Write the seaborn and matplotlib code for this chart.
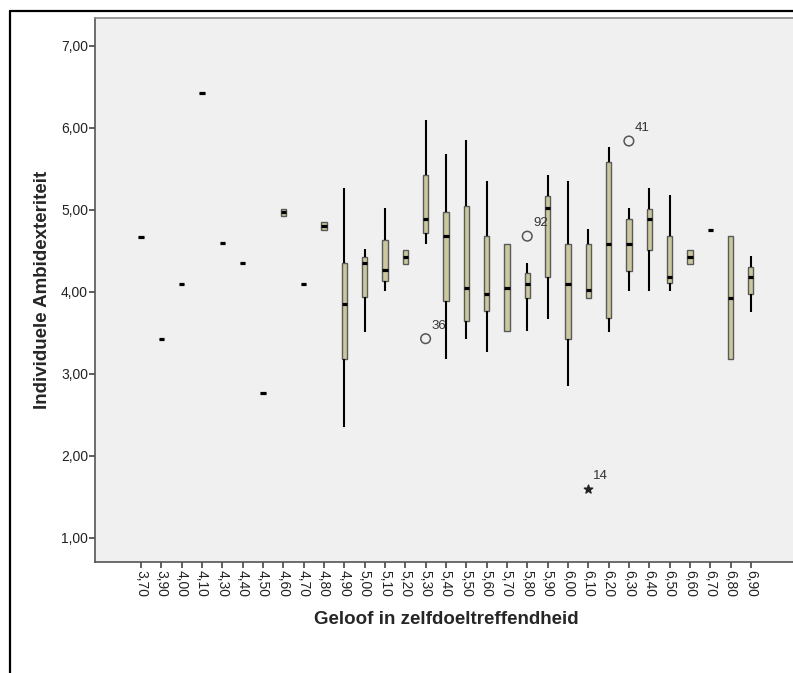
import numpy as np
import pandas as pd
import matplotlib
matplotlib.use("Agg")
import matplotlib.pyplot as plt
from matplotlib.lines import Line2D
import seaborn as sns

# Categories of "Geloof in zelfdoeltreffendheid"
categories = ["3,70", "3,90", "4,00", "4,10", "4,30", "4,40", "4,50", "4,60",
              "4,70", "4,80", "4,90", "5,00", "5,10", "5,20", "5,30", "5,40",
              "5,50", "5,60", "5,70", "5,80", "5,90", "6,00", "6,10", "6,20",
              "6,30", "6,40", "6,50", "6,60", "6,70", "6,80", "6,90"]

# Five-number summaries per category (whisker ends, quartiles, median)
whisker_low = [4.67, 3.43, 4.10, 6.42, 4.60, 4.35, 2.77, 4.92, 4.10, 4.76, 2.35,
               3.51, 4.01, 4.34, 4.59, 3.18, 3.42, 3.27, 3.52, 3.52, 3.67, 2.85,
               3.93, 3.51, 4.01, 4.01, 4.01, 4.34, 4.76, 3.18, 3.76]
quartile1 = [4.67, 3.43, 4.10, 6.42, 4.60, 4.35, 2.77, 4.92, 4.10, 4.76, 3.18,
             3.94, 4.13, 4.34, 4.72, 3.89, 3.65, 3.77, 3.52, 3.93, 4.18, 3.43,
             3.93, 3.68, 4.26, 4.51, 4.11, 4.34, 4.76, 3.18, 3.98]
median = [4.67, 3.43, 4.10, 6.42, 4.60, 4.35, 2.77, 4.97, 4.10, 4.80, 3.85,
          4.35, 4.27, 4.43, 4.89, 4.68, 4.05, 3.98, 4.05, 4.10, 5.02, 4.10,
          4.02, 4.59, 4.59, 4.89, 4.18, 4.43, 4.76, 3.93, 4.18]
quartile3 = [4.67, 3.43, 4.10, 6.42, 4.60, 4.35, 2.77, 5.01, 4.10, 4.85, 4.35,
             4.43, 4.63, 4.51, 5.43, 4.97, 5.05, 4.68, 4.59, 4.23, 5.17, 4.59,
             4.59, 5.59, 4.89, 5.01, 4.68, 4.51, 4.76, 4.68, 4.30]
whisker_high = [4.67, 3.43, 4.10, 6.42, 4.60, 4.35, 2.77, 5.01, 4.10, 4.85, 5.27,
                4.52, 5.02, 4.51, 6.10, 5.68, 5.85, 5.35, 4.59, 4.35, 5.43, 5.35,
                4.77, 5.77, 5.02, 5.27, 5.18, 4.51, 4.76, 4.68, 4.44]

# Outliers (circles) and extreme values (stars) with case numbers
outlier_cats = ["5,30", "5,80", "6,30"]
outlier_vals = [3.43, 4.68, 5.84]
outlier_ids = ["36", "92", "41"]
extreme_cats = ["6,10"]
extreme_vals = [1.60]
extreme_ids = ["14"]

sns.set_style("white", {"axes.facecolor": "#F0F0F0"})
plt.rcParams["font.family"] = ["Liberation Sans", "DejaVu Sans"]

rows = []
for i, c in enumerate(categories):
    for v in (whisker_low[i], quartile1[i], median[i], quartile3[i], whisker_high[i]):
        rows.append({"geloof": c, "ambi": v})
df = pd.DataFrame(rows)

fig = plt.figure(figsize=(7.93, 6.73), dpi=100)
ax = fig.add_axes([95 / 793, 1 - 562 / 673, 702 / 793, 544 / 673])

sns.boxplot(data=df, x="geloof", y="ambi", order=categories, ax=ax,
            whis=(0, 100), width=0.26, color="#D3CE97", linecolor="#5A5A5A",
            linewidth=1.0, showcaps=False, showfliers=False,
            medianprops={"color": "black", "linewidth": 2.3},
            whiskerprops={"color": "black", "linewidth": 1.5},
            boxprops={"edgecolor": "#5A5A5A", "linewidth": 1.0})

pos = {c: i for i, c in enumerate(categories)}
ox = [pos[c] for c in outlier_cats]
ax.scatter(ox, outlier_vals, s=48, facecolors="none", edgecolors="#555555",
           linewidths=1.1, zorder=5)
for x, y, t in zip(ox, outlier_vals, outlier_ids):
    ax.annotate(t, (x, y), xytext=(4.5, 5), textcoords="offset points",
                ha="left", va="bottom", fontsize=9.5, color="#333333")
ex = [pos[c] for c in extreme_cats]
ax.scatter(ex, extreme_vals, s=40, marker="*", color="#222222", zorder=5)
for x, y, t in zip(ex, extreme_vals, extreme_ids):
    ax.annotate(t, (x, y), xytext=(3.5, 5), textcoords="offset points",
                ha="left", va="bottom", fontsize=9.5, color="#333333")

ax.set_xlim(-2.263, 32.27)
ax.set_ylim(0.707, 7.34)
ax.set_yticks([1, 2, 3, 4, 5, 6, 7])
ax.set_yticklabels(["1,00", "2,00", "3,00", "4,00", "5,00", "6,00", "7,00"])
ax.set_xticks(range(len(categories)))
ax.set_xticklabels(categories, rotation=-90)
ax.tick_params(axis="y", length=4, width=1.2, color="#444444", labelsize=10,
               labelcolor="#222222", pad=1, left=True)
ax.tick_params(axis="x", length=4.5, width=1.2, color="#444444", labelsize=10,
               labelcolor="#222222", pad=1.5, bottom=True)

for side in ("left", "bottom"):
    ax.spines[side].set_color("#555555")
    ax.spines[side].set_linewidth(1.2)
ax.spines["top"].set_color("#888888")
ax.spines["top"].set_linewidth(1.2)
ax.spines["right"].set_visible(False)

ax.set_xlabel("Geloof in zelfdoeltreffendheid", fontsize=13.5, fontweight="bold",
              labelpad=10)
ax.set_ylabel("Individuele Ambidexteriteit", fontsize=13.5, fontweight="bold",
              labelpad=7)

# Outer chart frame
fig.add_artist(Line2D([10 / 793, 1.0], [1 - 11 / 673, 1 - 11 / 673],
                      transform=fig.transFigure, color="black", linewidth=1.6))
fig.add_artist(Line2D([10 / 793, 10 / 793], [0.0, 1 - 11 / 673],
                      transform=fig.transFigure, color="black", linewidth=1.6))

fig.savefig("out.png", dpi=100)
